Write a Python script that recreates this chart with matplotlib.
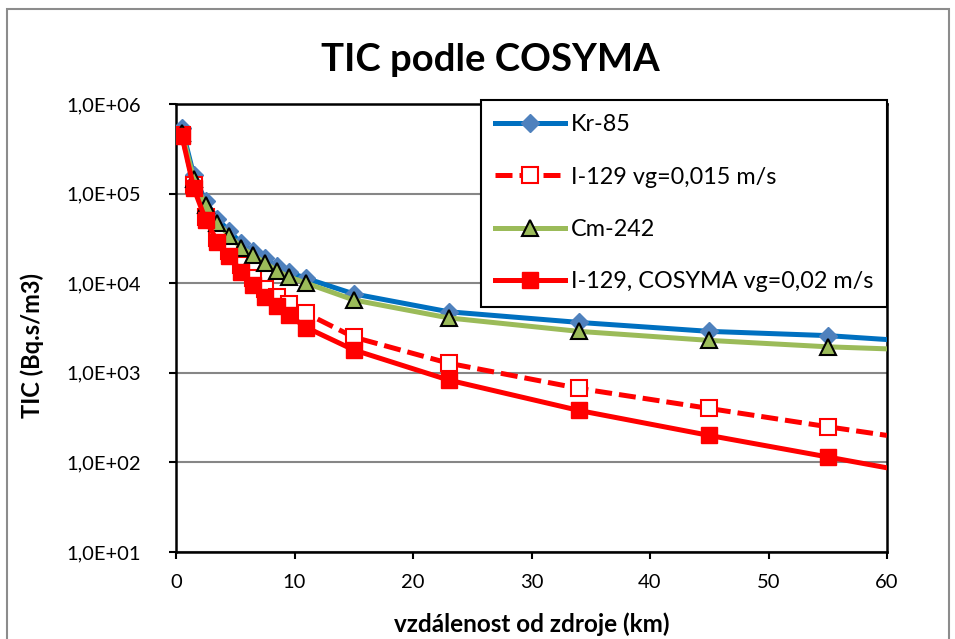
import math
import matplotlib
matplotlib.use("Agg")
import matplotlib.pyplot as plt
from matplotlib.patches import Rectangle
from matplotlib.ticker import FixedLocator, FuncFormatter, NullLocator

# distance from source (km)
dist = [0.5, 1.5, 2.5, 3.5, 4.5, 5.5, 6.5, 7.5, 8.5, 9.5, 11, 15, 23, 34, 45, 55, 60]

kr85 = [5.4e5, 1.6e5, 8.2e4, 5.2e4, 3.8e4, 2.8e4, 2.3e4, 1.9e4, 1.55e4, 1.33e4,
        1.13e4, 7.6e3, 4.8e3, 3.65e3, 2.9e3, 2.6e3, 2.35e3]
i129_015 = [4.5e5, 1.25e5, 5.5e4, 3.2e4, 2.3e4, 1.6e4, 1.15e4, 8.6e3, 7.0e3, 5.8e3,
            4.6e3, 2.5e3, 1.28e3, 6.7e2, 4.0e2, 2.5e2, 2.0e2]
cm242 = [4.8e5, 1.45e5, 7.4e4, 4.7e4, 3.4e4, 2.5e4, 2.05e4, 1.69e4, 1.38e4, 1.18e4,
         1.0e4, 6.5e3, 4.1e3, 2.9e3, 2.3e3, 1.95e3, 1.85e3]
i129_cosyma = [4.4e5, 1.15e5, 5.1e4, 2.9e4, 2.0e4, 1.35e4, 9.5e3, 7.0e3, 5.5e3, 4.4e3,
               3.2e3, 1.8e3, 8.3e2, 3.8e2, 2.0e2, 1.15e2, 8.7e1]

labels = ["Kr-85", "I-129 vg=0,015 m/s", "Cm-242", "I-129, COSYMA vg=0,02 m/s"]
x_ticks = [0, 10, 20, 30, 40, 50, 60]
y_ticks = [1e1, 1e2, 1e3, 1e4, 1e5, 1e6]

plt.rcParams['font.family'] = ['Lato', 'DejaVu Sans']

fig = plt.figure(figsize=(9.55, 6.39), dpi=100)
ax = fig.add_axes([176/955, 1-552/639, (887-176)/955, (552-104)/639])

# chart border (bottom edge is cut off in the original)
fig.patches.append(Rectangle((7/955, -0.05), (949-7)/955, 1.05 - 9/639,
                             transform=fig.transFigure, fill=False,
                             edgecolor='#8c8c8c', linewidth=1.5))

marks = slice(0, len(dist) - 1)
ax.plot(dist, kr85, color='#0070C0', lw=3.6, marker='D', ms=9.5,
        mfc='#4F81BD', mec='#4F81BD', markevery=marks, label=labels[0], zorder=3)
ax.plot(dist, i129_015, color='#FF0000', lw=3.6, ls=(0, (3.4, 1.4)), marker='s', ms=11.5,
        mfc='white', mec='#FF0000', mew=1.5, markevery=marks, label=labels[1], zorder=4)
ax.plot(dist, cm242, color='#9BBB59', lw=3.6, marker='^', ms=11,
        mfc='#9BBB59', mec='black', mew=1.5, markevery=marks, label=labels[2], zorder=5)
ax.plot(dist, i129_cosyma, color='#FF0000', lw=3.6, marker='s', ms=12,
        mfc='#FF0000', mec='#FF0000', markevery=marks, label=labels[3], zorder=6)

ax.set_yscale('log')
ax.set_xlim(0, 60)
ax.set_ylim(1e1, 1e6)
ax.xaxis.set_major_locator(FixedLocator(x_ticks))
ax.yaxis.set_major_locator(FixedLocator(y_ticks))
ax.yaxis.set_minor_locator(NullLocator())
ax.yaxis.set_major_formatter(FuncFormatter(lambda v, p: "1,0E+%02d" % round(math.log10(v))))
ax.tick_params(axis='both', direction='out', length=5, width=1.5, labelsize=14.5)
ax.tick_params(axis='x', pad=11)
ax.tick_params(axis='y', pad=20)
ax.grid(axis='y', color='#868686', lw=1.5)
ax.set_axisbelow(True)
for s in ax.spines.values():
    s.set_linewidth(1.8)
    s.set_color('black')

ax.set_xlabel("vzdálenost od zdroje (km)", fontsize=17.5, fontweight='bold', labelpad=15)
ax.set_ylabel("TIC (Bq.s/m3)", fontsize=17, fontweight='bold', labelpad=16)
ax.yaxis.set_label_coords(-0.185, 0.46)
fig.text(490/955, 1-60/639, "TIC podle COSYMA", fontsize=27.5, fontweight='bold',
         ha='center', va='center')

leg = ax.legend(loc='upper right', bbox_to_anchor=(887/955, 1-100/639),
                bbox_transform=fig.transFigure, borderaxespad=0, fontsize=16.8,
                fancybox=False, framealpha=1, edgecolor='black', handlelength=3.0,
                labelspacing=1.35, borderpad=0.6, handletextpad=0.25)
leg.get_frame().set_linewidth(1.5)
leg.set_zorder(10)

fig.savefig("out.png", dpi=100)
